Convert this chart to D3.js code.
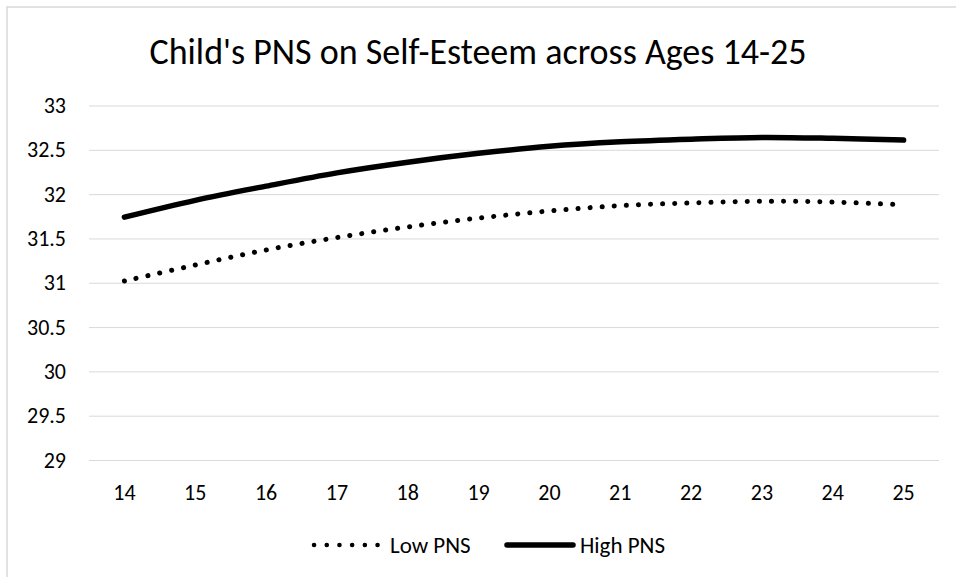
<!DOCTYPE html>
<html>
<head>
<meta charset="utf-8">
<script src="https://cdn.jsdelivr.net/npm/d3@7"></script>
<style>
  html, body { margin: 0; padding: 0; background: #fff; }
  svg { display: block; }
  text { font-family: Carlito, Calibri, Lato, "Open Sans", sans-serif; fill: #000; }
</style>
</head>
<body>
<svg id="chart" width="956" height="577"></svg>
<script>
const title = "Child's PNS on Self-Esteem across Ages 14-25";
const ages = ["14","15","16","17","18","19","20","21","22","23","24","25"];
const lowPNS  = [31.02, 31.20, 31.37, 31.51, 31.63, 31.73, 31.81, 31.87, 31.90, 31.92, 31.91, 31.88];
const highPNS = [31.74, 31.93, 32.09, 32.24, 32.36, 32.46, 32.54, 32.59, 32.62, 32.64, 32.63, 32.61];
const yTicks = [29, 29.5, 30, 30.5, 31, 31.5, 32, 32.5, 33];
const seriesNames = ["Low PNS", "High PNS"];

const FONT = "Carlito, Calibri, Lato, 'Open Sans', sans-serif";
const svg = d3.select("#chart");
const W = 956, H = 577;
const m = { left: 89, right: 17, top: 105.5, bottom: 117 };

// outer border (only left/top visible in frame)
svg.append("rect").attr("x", 7).attr("y", 7).attr("width", 1200).attr("height", 1200)
  .attr("fill", "none").attr("stroke", "#d9d9d9").attr("stroke-width", 1.5);

const x = d3.scaleBand().domain(ages).range([m.left, W - m.right]);
const y = d3.scaleLinear().domain([29, 33]).range([H - m.bottom, m.top]);

// title
svg.append("text").attr("x", 478).attr("y", 64).attr("text-anchor", "middle")
  .attr("font-size", 36).text(title);

// gridlines + y labels
const yAxis = d3.axisLeft(y).tickValues(yTicks).tickSize(-(W - m.left - m.right))
  .tickFormat(d => d3.format("")(d)).tickPadding(23);
const gy = svg.append("g").attr("transform", `translate(${m.left},0)`).call(yAxis);
gy.attr("font-size", null).attr("font-family", null);
gy.select(".domain").remove();
gy.selectAll(".tick line").attr("stroke", "#d9d9d9").attr("stroke-width", 1);
gy.selectAll(".tick text").style("font-size", "22px").style("font-family", FONT).attr("fill", "#000");

// x axis labels
const xAxis = d3.axisBottom(x).tickSize(0);
const gx = svg.append("g").attr("transform", `translate(0,${y(29)})`).call(xAxis);
gx.attr("font-size", null).attr("font-family", null);
gx.select(".domain").remove();
gx.selectAll(".tick text").style("font-size", "22px").style("font-family", FONT).attr("fill", "#000")
  .attr("y", 39.5).attr("dy", 0);

const line = d3.line()
  .x((d, i) => x(ages[i]) + x.bandwidth() / 2)
  .y(d => y(d))
  .curve(d3.curveCatmullRom.alpha(0.5));

svg.append("path").datum(lowPNS).attr("d", line)
  .attr("fill", "none").attr("stroke", "#000").attr("stroke-width", 5)
  .attr("stroke-linecap", "round").attr("stroke-dasharray", "0.1 12");

svg.append("path").datum(highPNS).attr("d", line)
  .attr("fill", "none").attr("stroke", "#000").attr("stroke-width", 5.5)
  .attr("stroke-linecap", "round");

// legend
const ly = 545;
const leg = svg.append("g");
leg.append("line").attr("x1", 314).attr("x2", 380).attr("y1", ly).attr("y2", ly)
  .attr("stroke", "#000").attr("stroke-width", 4.5).attr("stroke-linecap", "round")
  .attr("stroke-dasharray", "0.1 12.6");
leg.append("text").attr("x", 390).attr("y", ly).attr("dy", "0.35em").style("font-size", "23px").text(seriesNames[0]);
leg.append("line").attr("x1", 507).attr("x2", 573).attr("y1", ly).attr("y2", ly)
  .attr("stroke", "#000").attr("stroke-width", 5.5).attr("stroke-linecap", "round");
leg.append("text").attr("x", 580).attr("y", ly).attr("dy", "0.35em").style("font-size", "23px").text(seriesNames[1]);
</script>
</body>
</html>
